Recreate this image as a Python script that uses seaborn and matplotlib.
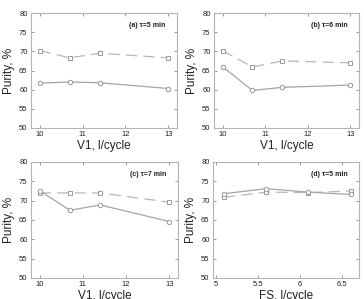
import matplotlib
matplotlib.use("Agg")
import matplotlib.pyplot as plt
import seaborn as sns
import pandas as pd

sns.set_theme(style="white")
plt.rcParams['font.family'] = ['Liberation Sans', 'DejaVu Sans']

v1 = [10, 10.7, 11.4, 13]
fs = [5.1, 5.6, 6.1, 6.6]

a_dash = [70.2, 68.3, 69.5, 68.3]
a_solid = [61.7, 62.0, 61.8, 60.3]
b_dash = [70.2, 65.9, 67.5, 67.0]
b_solid = [66.0, 59.8, 60.6, 61.2]
c_dash = [72.0, 72.0, 72.0, 69.6]
c_solid = [72.6, 67.5, 68.9, 64.6]
d_dash = [70.9, 72.2, 72.1, 72.5]
d_solid = [71.8, 73.1, 72.2, 71.6]

titles = ["(a) \u03c4=5 min", "(b) \u03c4=6 min", "(c) \u03c4=7 min", "(d) \u03c4=5 min"]
xlabels = ["V1, l/cycle", "V1, l/cycle", "V1, l/cycle", "FS, l/cycle"]
yticks = [50, 55, 60, 65, 70, 75, 80]

W, H = 364, 299
fig = plt.figure(figsize=(W / 100, H / 100), dpi=100)
fig.patch.set_facecolor('white')

rects = [
    [31 / W, 1 - 128 / H, 146 / W, 115 / H],
    [214 / W, 1 - 128 / H, 145 / W, 115 / H],
    [31 / W, 1 - 278 / H, 147 / W, 116 / H],
    [213 / W, 1 - 278 / H, 146 / W, 116 / H],
]
xs = [v1, v1, v1, fs]
dashes = [a_dash, b_dash, c_dash, d_dash]
solids = [a_solid, b_solid, c_solid, d_solid]
xlims = [(9.8, 13.2), (9.8, 13.2), (9.8, 13.2), (4.97, 6.7)]
xtickss = [[10, 11, 12, 13]] * 3 + [[5, 5.5, 6, 6.5]]
xticklabels = [["10", "11", "12", "13"]] * 3 + [["5", "5.5", "6", "6.5"]]

for i in range(4):
    ax = fig.add_axes(rects[i])
    ax.set_facecolor('white')
    df_d = pd.DataFrame({"x": xs[i], "y": dashes[i]})
    df_s = pd.DataFrame({"x": xs[i], "y": solids[i]})
    sns.lineplot(data=df_d, x="x", y="y", ax=ax, color="#b8b8b8", linewidth=0.9,
                 linestyle=(0, (9, 5)), marker="s", markersize=3.2,
                 markerfacecolor="white", markeredgecolor="#999999", markeredgewidth=0.7)
    sns.lineplot(data=df_s, x="x", y="y", ax=ax, color="#a5a5a5", linewidth=0.9,
                 marker="o", markersize=3.2,
                 markerfacecolor="white", markeredgecolor="#999999", markeredgewidth=0.7)
    ax.set_xlim(*xlims[i])
    ax.set_ylim(50, 80)
    ax.set_xticks(xtickss[i])
    ax.set_xticklabels(xticklabels[i])
    ax.set_yticks(yticks)
    ax.set_yticklabels([str(t) for t in yticks])
    ax.tick_params(direction='in', length=2, width=0.6, colors='#888888',
                   labelsize=5.5, labelcolor='#222222', top=True, right=True,
                   bottom=True, left=True, pad=2.5)
    for sp in ax.spines.values():
        sp.set_color('#b5b5b5')
        sp.set_linewidth(0.8)
    ax.set_xlabel(xlabels[i], fontsize=8.5, color='#222222', labelpad=1)
    ax.set_ylabel("Purity, %", fontsize=8.5, color='#222222', labelpad=3)
    ax.text(0.92, 0.89, titles[i], transform=ax.transAxes, ha='right', va='center',
            fontsize=5, fontweight='bold', color='#222222')

fig.savefig("out.png", dpi=100, facecolor='white')
